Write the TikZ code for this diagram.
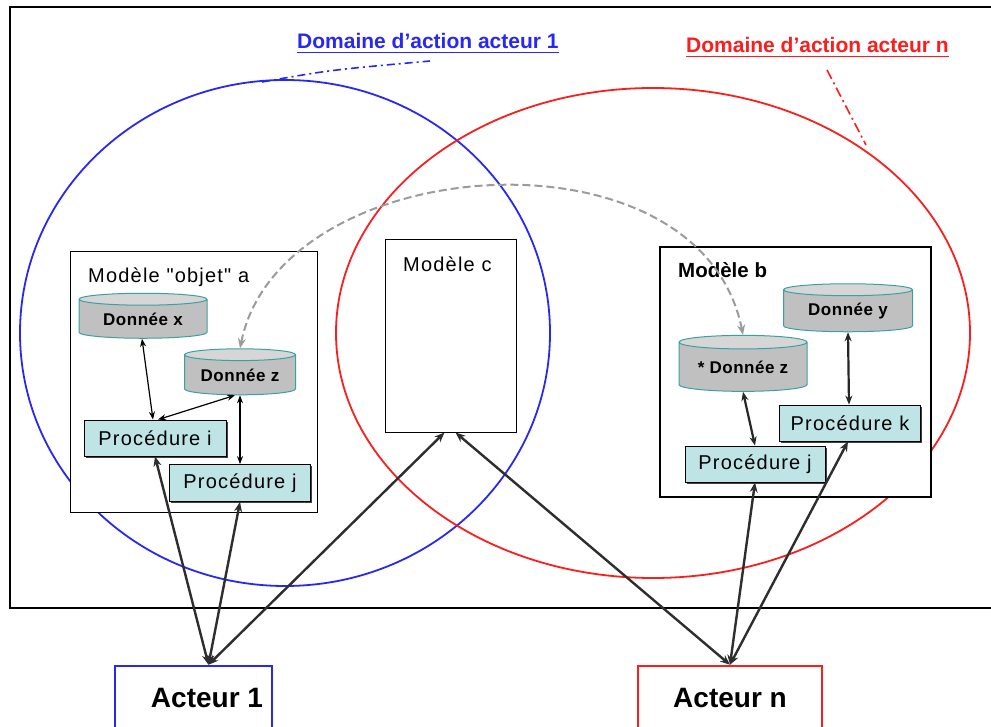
\documentclass[tikz,border=0pt]{standalone}
\usepackage{fontspec}
\setmainfont{Liberation Sans}
\newfontfamily\lsp[LetterSpace=6]{Liberation Sans}
\newfontfamily\lspb[LetterSpace=3]{Liberation Sans Bold}
\usetikzlibrary{shapes.geometric,arrows.meta,shadows}
\definecolor{cylgray}{RGB}{192,192,192}
\definecolor{cyltop}{RGB}{214,214,214}
\definecolor{cylteal}{RGB}{60,160,160}
\definecolor{procfill}{RGB}{190,228,230}
\definecolor{ablue}{RGB}{40,40,245}
\definecolor{ared}{RGB}{250,30,30}
\definecolor{dgray}{RGB}{155,155,155}
\begin{document}
\begin{tikzpicture}[x=1pt,y=-1pt,
  cyl/.style={cylinder, shape border rotate=90, aspect=0.15, draw=cylteal, line width=1pt,
    cylinder uses custom fill, cylinder body fill=cylgray, cylinder end fill=cyltop,
    font=\lspb\fontsize{17}{19}\selectfont, inner sep=0pt},
  proc/.style={rectangle, draw=black, line width=0.8pt, fill=procfill,
    font=\lsp\fontsize{20}{22}\selectfont, inner sep=0pt,
    drop shadow={shadow xshift=1.5pt, shadow yshift=-1.8pt, fill=black!75, opacity=1}},
  model/.style={rectangle, draw=black, line width=1pt, fill=white, inner sep=0pt},
  mtitle/.style={anchor=base west, inner sep=0pt, font=\lsp\fontsize{20}{22}\selectfont},
  actor/.style={rectangle, line width=2.5pt, fill=white, inner sep=0pt,
    font=\fontsize{28}{32}\selectfont\bfseries},
  dom/.style={anchor=base west, inner sep=0pt, font=\fontsize{21}{24}\selectfont\bfseries},
  arr/.style={{Stealth[length=8pt,width=6pt]}-{Stealth[length=8pt,width=6pt]}, line width=1.2pt},
  barr/.style={{Stealth[length=9pt,width=7pt]}-{Stealth[length=9pt,width=7pt]}, line width=2.2pt, black!85},
  aarr/.style={{Stealth[length=10pt,width=8pt]}-{Stealth[length=10pt,width=8pt]}, line width=2.4pt, black!82},
  ddash/.style={dgray, line width=2pt, dash pattern=on 8pt off 4pt,
    {Stealth[length=10pt,width=8pt]}-{Stealth[length=10pt,width=8pt]}},
  ]
\useasboundingbox (0,0) rectangle (991,727);
\fill[white] (0,0) rectangle (991,727);
\draw[line width=2pt] (10,7) rectangle (1005,608);

% domain labels
\node[dom, text=ablue] (d1) at (297,49) {Domaine d'action acteur 1};
\draw[ablue, line width=1.6pt] ([yshift=-3.5pt]d1.base west) -- ([yshift=-3.5pt]d1.base east);
\node[dom, text=ared] (dn) at (686,53) {Domaine d'action acteur n};
\draw[ared, line width=1.6pt] ([yshift=-3.5pt]dn.base west) -- ([yshift=-3.5pt]dn.base east);

% ellipses
\draw[ablue, line width=1.8pt] (285,333) ellipse [x radius=265, y radius=253];
\draw[ared, line width=1.8pt] (653,333) ellipse [x radius=317, y radius=245];
\coordinate (b1) at (262,82);
\coordinate (b2) at (430,61);
\draw[ablue, line width=1.6pt, dash pattern=on 8pt off 4pt on 2pt off 4pt] (b1) .. controls (330,70) .. (b2);
\coordinate (r1) at (827,70);
\coordinate (r2) at (866,145);
\draw[ared, line width=1.6pt, dash pattern=on 10pt off 4pt on 2pt off 4pt] (r1) -- (r2);

% models
\node[model, minimum width=247, minimum height=260] (ma) at (193.5,382) {};
\node[mtitle] (mat) at (88,283) {Modèle "objet" a};
\node[model, minimum width=131, minimum height=192] (mc) at (450.5,336) {};
\node[mtitle] (mct) at (403,272) {Modèle c};
\node[model, line width=2.5pt, minimum width=271, minimum height=250] (mb) at (795.5,372) {};
\node[anchor=base west, inner sep=0pt, font=\fontsize{20.5}{22}\selectfont\bfseries] (mbt) at (678,278) {Modèle b};

% data
\node[cyl, minimum width=128, minimum height=45] (dx) at (143,319) {Donnée x};
\node[cyl, minimum width=111, minimum height=46] (dza) at (240,375) {Donnée z};
\node[cyl, minimum width=129, minimum height=48] (dy) at (848,311) {Donnée y};
\node[cyl, minimum width=128, minimum height=56] (dzb) at (743,367) {* Donnée z};

% procedures
\node[proc, minimum width=142, minimum height=36] (pi) at (155,438) {Procédure i};
\node[proc, minimum width=141, minimum height=37] (pja) at (240,483) {Procédure j};
\node[proc, minimum width=141, minimum height=36] (pk) at (850,423) {Procédure k};
\node[proc, minimum width=140, minimum height=36] (pjb) at (755,464) {Procédure j};

% actors
\node[actor, draw=ablue, minimum width=157, minimum height=64] (a1) at (193.5,698) {\hspace*{27pt}Acteur 1};
\node[actor, draw=ared, minimum width=184, minimum height=64] (an) at (730,698) {Acteur n};

% inner arrows
\draw[arr] ([xshift=-1pt]dx.south) -- ([xshift=-2pt]pi.north);
\draw[arr] ([xshift=3pt]pi.north) -- ([xshift=-5pt]dza.south);
\draw[arr] (dza.south) -- (pja.north);
\draw[barr] (dzb.south) -- (pjb.north);
\draw[barr] (dy.south) -- ([xshift=-1pt]pk.north);

% actor arrows
\coordinate (a1t) at ([xshift=15pt]a1.north);
\draw[aarr] (a1t) -- (pi.south);
\draw[aarr] (a1t) -- (pja.south);
\draw[aarr] (a1t) -- ([xshift=-6pt]mc.south);
\draw[aarr] (an.north) -- ([xshift=5pt]mc.south);
\draw[aarr] (an.north) -- (pjb.south);
\draw[aarr] (an.north) -- ([xshift=-2pt]pk.south);

% shared data
\draw[ddash] (dza.north) .. controls (280,150) and (700,120) .. (dzb.north);
\end{tikzpicture}
\end{document}
